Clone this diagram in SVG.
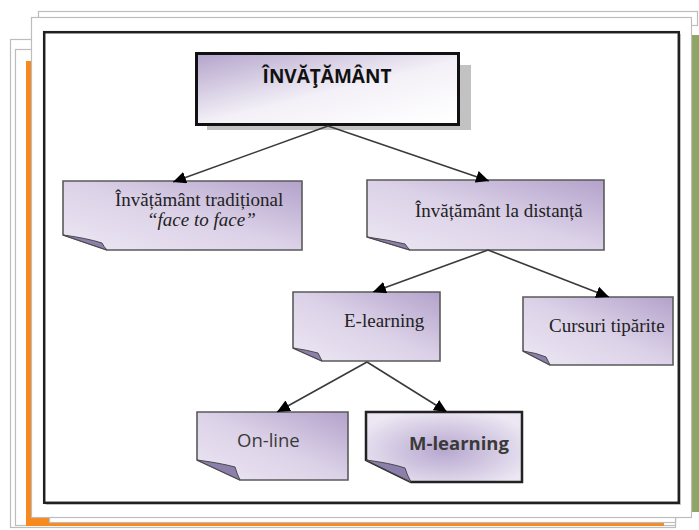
<svg xmlns="http://www.w3.org/2000/svg" width="699" height="530" viewBox="0 0 699 530">
<style>
.frame{fill:#fff;stroke:#bdbdbd;stroke-width:1.2}
.note{stroke:#5a5a5a;stroke-width:1.6;fill:url(#noteG)}
.curl{fill:#8d7fab;stroke:#4a4a4a;stroke-width:1}
.serif{font-family:"Liberation Serif","Times New Roman",serif;font-size:19px;fill:#222}
.sans{font-family:"Open Sans","Liberation Sans",sans-serif;fill:#3a3a3a}
.conn{stroke:#3a3a3a;stroke-width:1.6;fill:none;marker-end:url(#arr)}
</style>
<defs>
<linearGradient id="noteG" x1="0" y1="1" x2="1" y2="0">
<stop offset="0" stop-color="#ece7f3"/>
<stop offset="0.5" stop-color="#dcd2e8"/>
<stop offset="1" stop-color="#b3a2cb"/>
</linearGradient>
<radialGradient id="noteR" cx="0.5" cy="0.55" r="0.6">
<stop offset="0" stop-color="#b7a7cf"/>
<stop offset="1" stop-color="#ece7f3"/>
</radialGradient>
<linearGradient id="topG" x1="0" y1="0" x2="0.9" y2="1">
<stop offset="0" stop-color="#b3a3cb"/>
<stop offset="0.55" stop-color="#f3f0f7"/>
<stop offset="1" stop-color="#ffffff"/>
</linearGradient>
<marker id="arr" markerUnits="userSpaceOnUse" markerWidth="14" markerHeight="12" refX="13" refY="6" orient="auto">
<path d="M0,0 L13,6 L0,12 Z" fill="#000"/>
</marker>
</defs>
<rect width="699" height="530" fill="#fff"/>
<g id="background">
<rect class="frame" x="10.5" y="39.5" width="665" height="488"/>
<rect class="frame" x="15.5" y="49.5" width="660" height="476"/>
<rect class="frame" x="38.5" y="11.5" width="659" height="14"/>
<rect x="26" y="61" width="638" height="465" fill="#f7891f"/>
<rect x="686" y="35" width="13" height="477" fill="#8fa566"/>
<rect class="frame" x="49.5" y="40.5" width="626" height="482"/>
<rect class="frame" x="31.5" y="17.5" width="660" height="500"/>
<rect x="46" y="34" width="635" height="471" fill="#c8c8c8"/>
<rect x="44.2" y="32.2" width="634.6" height="470.6" fill="#fff" stroke="#231f20" stroke-width="2.5"/>
</g>
<g id="node-invatamant">
<rect x="207" y="65" width="264" height="65" fill="#c2c2c2"/>
<rect x="196.5" y="53.5" width="262" height="71" fill="url(#topG)" stroke="#111" stroke-width="3"/>
<text x="327" y="83" text-anchor="middle" font-family="Open Sans, Liberation Sans, sans-serif" font-weight="bold" font-size="19" fill="#111">ÎNVĂŢĂMÂNT</text>
</g>
<g id="node-traditional">
<path class="note" d="M63,181 H302 V250 H107 L63,235 Z"/>
<path class="curl" d="M63,235 Q86,238 102,243 Q104,247 107,250 Z"/>
<text class="serif" x="115" y="206">Învățământ tradițional</text>
<text class="serif" x="147" y="226" font-style="italic">“face to face”</text>
</g>
<g id="node-distanta">
<path class="note" d="M367,180 H604 V250 H410 L367,237 Z"/>
<path class="curl" d="M367,237 Q389,240 405,244 Q407,247 410,250 Z"/>
<text class="serif" x="415" y="217">Învățământ la distanță</text>
</g>
<g id="node-elearning">
<path class="note" d="M293,292 H440 V361 H322 L293,348 Z"/>
<path class="curl" d="M293,348 Q307,350 318,353 Q320,357 322,361 Z"/>
<text class="serif" x="344" y="327">E-learning</text>
</g>
<g id="node-cursuri">
<path class="note" d="M523,297 H673 V365 H550 L523,351 Z"/>
<path class="curl" d="M523,351 Q537,353 546,357 Q548,361 550,365 Z"/>
<text class="serif" x="549" y="332">Cursuri tipărite</text>
</g>
<g id="node-online">
<path class="note" d="M197,412 H348 V480 H240 L197,460 Z"/>
<path class="curl" d="M197,460 Q220,463 235,467 Q237,474 240,480 Z"/>
<text class="sans" x="237" y="447" font-size="18.5">On-line</text>
</g>
<g id="node-mlearning">
<path d="M366,412 H522 V482 H411 L366,460 Z" fill="url(#noteR)" stroke="#222" stroke-width="2.5"/>
<path class="curl" d="M366,460 Q390,463 405,468 Q407,475 411,482 Z"/>
<text class="sans" x="409" y="450" font-size="18.5" font-weight="bold" fill="#111">M-learning</text>
</g>
<g id="connectors">
<line class="conn" x1="328" y1="126" x2="173" y2="182"/>
<line class="conn" x1="328" y1="126" x2="489" y2="181"/>
<line class="conn" x1="488" y1="250" x2="373" y2="292"/>
<line class="conn" x1="488" y1="250" x2="609" y2="297"/>
<line class="conn" x1="367" y1="362" x2="277" y2="412"/>
<line class="conn" x1="367" y1="362" x2="447" y2="412"/>
</g>
</svg>
